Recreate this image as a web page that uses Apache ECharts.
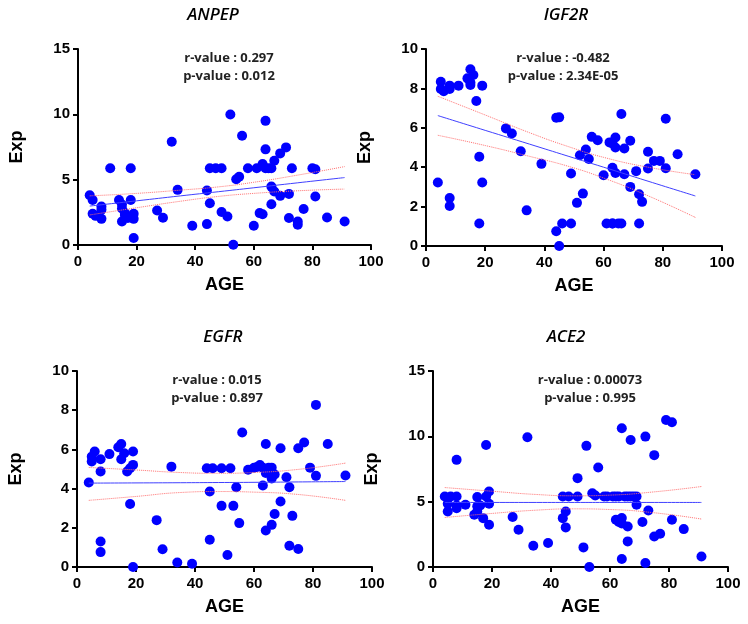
<!DOCTYPE html>
<html>
<head>
<meta charset="utf-8">
<script src="https://cdn.jsdelivr.net/npm/echarts@6/dist/echarts.min.js"></script>
<style>
  html, body { margin: 0; padding: 0; background: #fff; }
  #main { width: 748px; height: 624px; }
</style>
</head>
<body>
<div id="main"></div>
<script>
// values
const anpepAge = [4, 5, 5, 6, 8, 8, 8, 11, 14, 15, 15, 15, 16, 16, 17, 18, 18, 19, 19, 19, 27, 29, 32, 34, 39, 44, 44, 45, 45, 47, 49, 49, 51, 53, 52, 54, 55, 56, 58, 60, 61, 62, 63, 63, 64, 64, 64, 65, 66, 66, 66, 67, 67, 69, 69, 71, 72, 72, 73, 75, 75, 77, 80, 81, 81, 85, 91];
const anpepExp = [3.81, 3.45, 2.39, 2.23, 2.95, 2.7, 2.0, 5.87, 3.45, 3.1, 2.8, 1.8, 2.44, 2.3, 2.06, 5.87, 3.45, 2.39, 2.0, 0.53, 2.64, 2.08, 7.9, 4.22, 1.47, 4.17, 1.6, 3.2, 5.87, 5.87, 5.87, 2.52, 2.18, 0.02, 9.99, 5.03, 5.23, 8.36, 5.87, 1.47, 5.87, 2.44, 2.36, 6.2, 9.5, 7.32, 5.87, 5.87, 5.87, 4.47, 3.12, 6.45, 4.09, 3.76, 7.01, 7.47, 3.91, 2.06, 5.87, 1.8, 1.55, 2.75, 5.87, 5.8, 3.71, 2.1, 1.8];

const igf2rAge = [4, 5, 5, 6, 8, 8, 8, 8, 11, 14, 15, 15, 15, 16, 17, 18, 18, 19, 19, 27, 29, 32, 34, 39, 44, 45, 44, 45, 46, 49, 49, 51, 53, 52, 54, 55, 56, 58, 60, 61, 62, 63, 63, 65, 66, 63, 64, 64, 63, 64, 66, 67, 67, 69, 69, 71, 72, 73, 72, 75, 75, 77, 79, 81, 81, 85, 91];
const igf2rExp = [3.22, 8.34, 7.97, 7.86, 8.14, 7.97, 2.44, 2.03, 8.14, 8.51, 8.97, 8.17, 8.3, 8.68, 7.36, 4.53, 1.14, 8.14, 3.22, 5.97, 5.71, 4.81, 1.81, 4.17, 6.51, 6.53, 0.75, 0.0, 1.14, 3.68, 1.14, 2.19, 2.66, 4.61, 4.9, 4.42, 5.54, 5.37, 3.59, 1.14, 5.26, 1.14, 1.14, 1.14, 1.14, 3.97, 3.71, 5.51, 5.2, 5.0, 6.7, 4.95, 3.64, 5.34, 3.0, 3.8, 2.63, 2.24, 1.14, 4.78, 3.93, 4.32, 4.32, 3.95, 6.46, 4.66, 3.64];

const egfrAge = [4, 5, 5, 6, 8, 8, 8, 8, 11, 14, 15, 15, 16, 19, 18, 17, 19, 18, 19, 27, 29, 32, 34, 39, 44, 46, 49, 45, 45, 49, 52, 51, 53, 54, 55, 56, 58, 60, 61, 62, 63, 64, 64, 63, 65, 66, 66, 67, 64, 66, 67, 69, 69, 71, 72, 72, 73, 75, 75, 77, 79, 81, 81, 85, 91];
const egfrExp = [4.31, 5.63, 5.38, 5.89, 5.5, 4.87, 1.3, 0.76, 5.76, 6.11, 6.28, 5.5, 5.8, 5.89, 5.04, 4.87, 5.21, 3.21, 0.0, 2.39, 0.91, 5.12, 0.23, 0.17, 5.04, 5.04, 5.04, 3.85, 1.39, 3.12, 5.04, 0.61, 3.12, 4.07, 2.24, 6.86, 4.96, 5.06, 5.1, 5.2, 5.07, 4.8, 6.28, 4.16, 5.07, 5.07, 4.52, 4.72, 1.86, 2.15, 2.7, 6.06, 3.34, 4.58, 4.07, 1.08, 2.61, 0.92, 6.06, 6.35, 5.07, 8.27, 4.65, 6.28, 4.67];

const ace2Age = [4, 5, 5, 6, 8, 8, 8, 8, 11, 14, 15, 15, 16, 15, 17, 18, 18, 19, 19, 19, 27, 29, 32, 34, 39, 44, 46, 44, 45, 45, 49, 49, 51, 52, 53, 54, 55, 56, 58, 59, 61, 62, 63, 65, 66, 67, 68, 69, 69, 62, 63, 64, 64, 66, 64, 67, 66, 64, 72, 72, 73, 71, 75, 75, 77, 79, 81, 81, 85, 91];
const ace2Exp = [5.39, 4.84, 4.25, 5.39, 5.39, 8.2, 4.7, 4.5, 4.76, 4.0, 5.35, 4.65, 4.7, 4.25, 3.74, 9.34, 5.39, 5.78, 4.84, 3.23, 3.82, 2.85, 9.93, 1.63, 1.83, 5.39, 5.39, 3.74, 4.25, 3.03, 6.8, 5.39, 1.5, 9.27, 0.0, 5.65, 5.47, 7.61, 5.39, 5.39, 5.39, 5.39, 5.39, 5.39, 5.39, 5.39, 5.39, 5.39, 4.76, 3.61, 3.44, 3.75, 3.33, 3.1, 10.62, 9.72, 1.96, 0.61, 9.98, 0.31, 4.33, 3.44, 8.56, 2.34, 2.54, 11.25, 11.08, 3.61, 2.9, 0.81];

// fit line and 95% band, read at these ages
const bandAge = [4, 20, 35, 48, 60, 75, 91];
const anpepFit = [2.98, 3.38, 3.76, 4.08, 4.38, 4.76, 5.16];
const anpepHi = [3.76, 3.95, 4.2, 4.45, 4.8, 5.35, 6.0];
const anpepLo = [2.3, 2.85, 3.35, 3.72, 3.95, 4.15, 4.28];
const igf2rFit = [6.62, 5.87, 5.17, 4.56, 4.0, 3.29, 2.54];
const igf2rHi = [7.6, 6.65, 5.75, 5.05, 4.5, 4.0, 3.62];
const igf2rLo = [5.62, 5.1, 4.55, 4.05, 3.45, 2.55, 1.45];
const egfrFit = [4.28, 4.29, 4.3, 4.31, 4.32, 4.34, 4.36];
const egfrHi = [5.08, 4.95, 4.82, 4.78, 4.82, 4.98, 5.3];
const egfrLo = [3.4, 3.6, 3.8, 3.85, 3.82, 3.7, 3.4];
const ace2Fit = [4.94, 4.94, 4.94, 4.94, 4.94, 4.94, 4.94];
const ace2Hi = [6.08, 5.8, 5.55, 5.45, 5.5, 5.75, 6.16];
const ace2Lo = [3.79, 4.1, 4.35, 4.45, 4.4, 4.15, 3.67];

const genes = ['ANPEP', 'IGF2R', 'EGFR', 'ACE2'];
const rValues = ['0.297', '-0.482', '0.015', '0.00073'];
const pValues = ['0.012', '2.34E-05', '0.897', '0.995'];
const yMax = [15, 10, 10, 15];
const yStep = [5, 2, 2, 5];

const ages = [anpepAge, igf2rAge, egfrAge, ace2Age];
const exps = [anpepExp, igf2rExp, egfrExp, ace2Exp];
const fits = [anpepFit, igf2rFit, egfrFit, ace2Fit];
const his = [anpepHi, igf2rHi, egfrHi, ace2Hi];
const los = [anpepLo, igf2rLo, egfrLo, ace2Lo];

const grids = [
  { left: 78, top: 49, width: 293, height: 196 },
  { left: 426, top: 49, width: 296, height: 197 },
  { left: 77, top: 371, width: 295, height: 196 },
  { left: 433, top: 371, width: 295, height: 196 }
];
const titlePos = [[213, 15], [566, 15], [223, 337], [566, 337]];
const statPos = [[229, 58], [563, 58], [217, 380], [590, 380]];

const font = '"Liberation Sans", Arial, sans-serif';
const axisLine = { lineStyle: { color: '#000', width: 2 } };

const zip = (xs, ys) => xs.map((x, i) => [x, ys[i]]);

var myChart = echarts.init(document.getElementById('main'));

const xAxis = [], yAxis = [], series = [], graphic = [];
grids.forEach((g, i) => {
  xAxis.push({
    gridIndex: i, type: 'value', min: 0, max: 100, interval: 20,
    name: 'AGE', nameLocation: 'middle', nameGap: 31,
    nameTextStyle: { fontFamily: font, fontWeight: 'bold', fontSize: 18, color: '#000' },
    axisLine: axisLine,
    axisTick: { show: true, length: 5, lineStyle: { color: '#000', width: 2 } },
    axisLabel: { fontFamily: font, fontWeight: 'bold', fontSize: 15, color: '#000', margin: 9 },
    splitLine: { show: false }
  });
  yAxis.push({
    gridIndex: i, type: 'value', min: 0, max: yMax[i], interval: yStep[i],
    name: 'Exp', nameLocation: 'middle', nameGap: 52, nameRotate: 90,
    nameTextStyle: { fontFamily: font, fontWeight: 'bold', fontSize: 18, color: '#000' },
    axisLine: axisLine,
    axisTick: { show: true, length: 5, lineStyle: { color: '#000', width: 2 } },
    axisLabel: { fontFamily: font, fontWeight: 'bold', fontSize: 15, color: '#000', margin: 8 },
    splitLine: { show: false }
  });
  series.push({
    type: 'scatter', xAxisIndex: i, yAxisIndex: i,
    data: zip(ages[i], exps[i]),
    symbolSize: 10,
    itemStyle: { color: '#0000ff', opacity: 1 },
    z: 3
  });
  series.push({
    type: 'line', xAxisIndex: i, yAxisIndex: i,
    data: zip(bandAge, fits[i]), smooth: true, showSymbol: false,
    lineStyle: { color: '#4040ff', width: 1 }, z: 4
  });
  [his[i], los[i]].forEach(b => {
    series.push({
      type: 'line', xAxisIndex: i, yAxisIndex: i,
      data: zip(bandAge, b), smooth: true, showSymbol: false,
      lineStyle: { color: '#ff7070', width: 1, type: 'dotted' }, z: 4
    });
  });
  graphic.push({
    type: 'text', x: titlePos[i][0], y: titlePos[i][1],
    style: {
      text: genes[i], textAlign: 'center', textVerticalAlign: 'middle',
      font: 'italic 600 17px "Open Sans", sans-serif', fill: '#000'
    }
  });
  graphic.push({
    type: 'text', x: statPos[i][0], y: statPos[i][1],
    style: {
      text: 'r-value : ' + rValues[i], textAlign: 'center', textVerticalAlign: 'middle',
      font: 'bold 13px "Open Sans", sans-serif', fill: '#222'
    }
  });
  graphic.push({
    type: 'text', x: statPos[i][0], y: statPos[i][1] + 18,
    style: {
      text: 'p-value : ' + pValues[i], textAlign: 'center', textVerticalAlign: 'middle',
      font: 'bold 13px "Open Sans", sans-serif', fill: '#222'
    }
  });
});

myChart.setOption({
  backgroundColor: '#fff',
  animation: false,
  grid: grids,
  xAxis: xAxis,
  yAxis: yAxis,
  series: series,
  graphic: graphic
});
</script>
</body>
</html>
